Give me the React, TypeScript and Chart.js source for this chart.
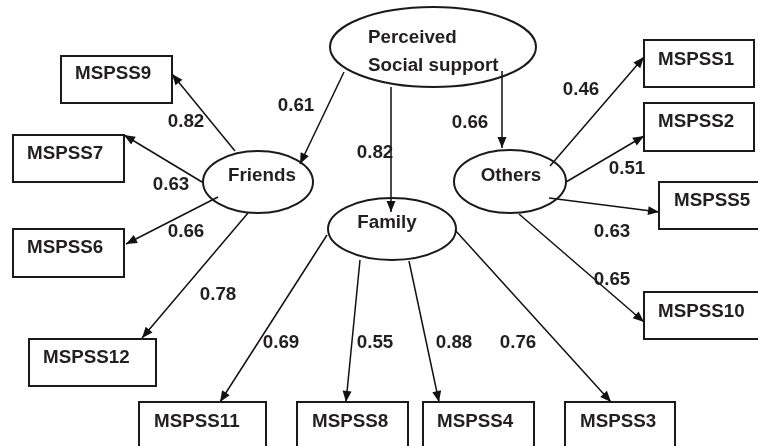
import React, { useEffect, useRef } from 'react';
import { Chart, registerables } from 'chart.js';

Chart.register(...registerables);

// ---------- data ----------
const factors = ['Perceived|Social support', 'Friends', 'Family', 'Others'];
const indicators = [
  'MSPSS9', 'MSPSS7', 'MSPSS6', 'MSPSS12', 'MSPSS11', 'MSPSS8',
  'MSPSS4', 'MSPSS3', 'MSPSS1', 'MSPSS2', 'MSPSS5', 'MSPSS10',
];
const pathFrom = [
  'Perceived|Social support', 'Perceived|Social support', 'Perceived|Social support',
  'Friends', 'Friends', 'Friends', 'Friends',
  'Family', 'Family', 'Family', 'Family',
  'Others', 'Others', 'Others', 'Others',
];
const pathTo = [
  'Friends', 'Family', 'Others',
  'MSPSS9', 'MSPSS7', 'MSPSS6', 'MSPSS12',
  'MSPSS11', 'MSPSS8', 'MSPSS4', 'MSPSS3',
  'MSPSS1', 'MSPSS2', 'MSPSS5', 'MSPSS10',
];
const loadings = [0.61, 0.82, 0.66, 0.82, 0.63, 0.66, 0.78, 0.69, 0.55, 0.88, 0.76, 0.46, 0.51, 0.63, 0.65];

// ---------- layout (data units of the hidden scales) ----------
const factorCx = [433, 258, 392, 510];
const factorCy = [47, 182, 229, 181.5];
const factorRx = [103, 55, 64, 56];
const factorRy = [40, 31, 31, 31.5];
const factorTextX = [368, 262, 387, 511];
const factorTextY = [38, 176, 223, 176];

const boxLeft = [61, 13, 13, 29, 139, 297, 423, 565, 644, 644, 659, 644];
const boxTop = [56, 135, 229, 339, 402, 402, 402, 402, 40, 103, 182, 292];
const boxRight = [172, 124, 124, 156, 266, 408, 534, 675, 754, 754, 770, 770];
const boxBottom = [103, 182, 277, 386, 452, 452, 452, 452, 87, 151, 229, 339];
const boxTextX = [75, 27, 27, 43, 154, 312, 437, 580, 658, 658, 674, 658];
const boxTextY = [74, 154, 248, 358, 422, 422, 422, 422, 60, 122, 201, 312];

const edgeX1 = [344, 391, 502, 235, 202, 218, 248, 327, 360, 409, 455, 550, 566, 549, 519];
const edgeY1 = [72, 87, 71, 151, 182, 197, 213, 235, 260, 261, 230, 166, 182, 198, 214];
const edgeX2 = [300, 391, 502, 172, 124, 126, 142, 220, 346, 439, 611, 644, 644, 659, 644];
const edgeY2 = [164, 212, 148, 74, 135, 244, 338, 402, 402, 402, 402, 57, 136, 212, 322];
const labelX = [296, 375, 470, 186, 171, 186, 218, 281, 375, 454, 518, 581, 627, 612, 612];
const labelY = [106, 153, 123, 122, 185, 232, 295, 343, 343, 343, 343, 90, 169, 232, 280];

const FONT = 'bold 18.8px "Liberation Sans", Arial, sans-serif';
const TEXT = '#231f20';

const diagramPlugin = {
  id: 'semDiagram',
  afterDatasetsDraw(chart: any) {
    const ctx = chart.ctx as CanvasRenderingContext2D;
    const xs = chart.scales.x;
    const ys = chart.scales.y;
    const px = (v: number) => xs.getPixelForValue(v);
    const py = (v: number) => ys.getPixelForValue(v);
    ctx.save();

    // arrowheads from the dataset points
    pathTo.forEach((_, i) => {
      const meta = chart.getDatasetMeta(i);
      const a = meta.data[0];
      const b = meta.data[1];
      const ang = Math.atan2(b.y - a.y, b.x - a.x);
      const L = 11;
      const W = 4.5;
      ctx.beginPath();
      ctx.moveTo(b.x, b.y);
      ctx.lineTo(b.x - L * Math.cos(ang) + W * Math.sin(ang), b.y - L * Math.sin(ang) - W * Math.cos(ang));
      ctx.lineTo(b.x - L * Math.cos(ang) - W * Math.sin(ang), b.y - L * Math.sin(ang) + W * Math.cos(ang));
      ctx.closePath();
      ctx.fillStyle = '#111';
      ctx.fill();
    });

    // ellipses (latent factors)
    ctx.lineWidth = 2;
    ctx.strokeStyle = '#1a1a1a';
    factors.forEach((name, i) => {
      const cx = px(factorCx[i]);
      const cy = py(factorCy[i]);
      const rx = Math.abs(px(factorCx[i] + factorRx[i]) - cx);
      const ry = Math.abs(py(factorCy[i] + factorRy[i]) - cy);
      ctx.beginPath();
      ctx.ellipse(cx, cy, rx, ry, 0, 0, Math.PI * 2);
      ctx.stroke();
      ctx.font = FONT;
      ctx.fillStyle = TEXT;
      ctx.textBaseline = 'middle';
      const lines = name.split('|');
      if (lines.length > 1) {
        ctx.textAlign = 'left';
        lines.forEach((ln, k) => {
          ctx.fillText(ln, px(factorTextX[i]), py(factorTextY[i] + k * 28));
        });
      } else {
        ctx.textAlign = 'center';
        ctx.fillText(name, px(factorTextX[i]), py(factorTextY[i]));
      }
    });

    // rectangles (indicators)
    indicators.forEach((name, i) => {
      const x1 = px(boxLeft[i]);
      const x2 = px(boxRight[i]);
      const y1 = py(boxTop[i]);
      const y2 = py(boxBottom[i]);
      ctx.lineWidth = 2;
      ctx.strokeStyle = '#1a1a1a';
      ctx.strokeRect(x1, y1, x2 - x1, y2 - y1);
      ctx.font = FONT;
      ctx.fillStyle = TEXT;
      ctx.textAlign = 'left';
      ctx.textBaseline = 'middle';
      ctx.fillText(name, px(boxTextX[i]), py(boxTextY[i]));
    });

    // loadings
    loadings.forEach((v, i) => {
      ctx.font = FONT;
      ctx.fillStyle = TEXT;
      ctx.textAlign = 'center';
      ctx.textBaseline = 'middle';
      ctx.fillText(v.toFixed(2), px(labelX[i]), py(labelY[i]));
    });

    ctx.restore();
  },
};

export default function App() {
  const ref = useRef<HTMLCanvasElement | null>(null);

  useEffect(() => {
    document.body.style.margin = '0';
    const canvas = ref.current;
    if (!canvas) return;
    const datasets = pathTo.map((to, i) => ({
      label: pathFrom[i] + ' -> ' + to,
      data: [
        { x: edgeX1[i], y: edgeY1[i] },
        { x: edgeX2[i], y: edgeY2[i] },
      ],
      showLine: true,
      borderColor: '#111',
      borderWidth: 1.5,
      pointRadius: 0,
      pointHoverRadius: 0,
      fill: false,
    }));
    const chart = new Chart(canvas, {
      type: 'scatter',
      data: { datasets },
      options: {
        responsive: false,
        maintainAspectRatio: false,
        animation: false,
        devicePixelRatio: 1,
        layout: { padding: 0 },
        plugins: { legend: { display: false }, tooltip: { enabled: false } },
        scales: {
          x: { type: 'linear', min: 0, max: 758, display: false },
          y: { type: 'linear', min: 0, max: 446, reverse: true, display: false },
        },
      },
      plugins: [diagramPlugin],
    });
    return () => chart.destroy();
  }, []);

  return (
    <div style={{ position: 'fixed', left: 0, top: 0, width: 758, height: 446, background: '#fff' }}>
      <canvas ref={ref} width={758} height={446} style={{ width: 758, height: 446 }} />
    </div>
  );
}
